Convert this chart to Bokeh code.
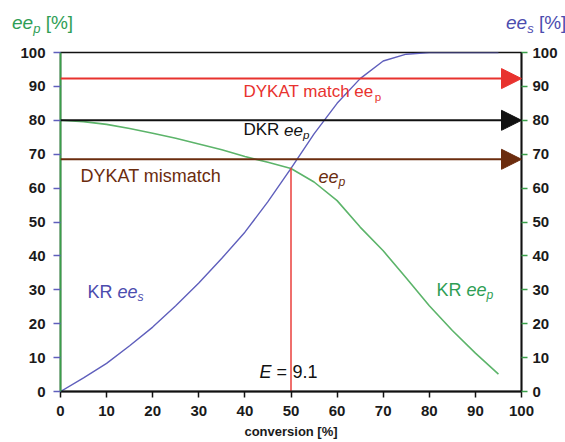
from bokeh.plotting import figure
from bokeh.layouts import column
from bokeh.models import (Range1d, LinearAxis, FixedTicker, Label, Arrow, NormalHead, Div)
from bokeh.embed import file_html
from bokeh.resources import INLINE

# ---------------- data ----------------
conversion_ees = [0, 5, 10, 15, 20, 25, 30, 35, 40, 45, 50, 55, 60, 65, 70, 75, 80, 95]
kr_ee_s = [0, 4, 8.3, 13.5, 19, 25.3, 32, 39.3, 47, 56, 65.8, 76, 85, 92.3, 97.5, 99.5, 100, 100]

conversion_eep = [0, 5, 10, 15, 20, 25, 30, 35, 40, 45, 50, 55, 60, 65, 70, 75, 80, 85, 90, 95]
kr_ee_p = [80, 79.6, 78.8, 77.6, 76.2, 74.7, 73, 71.3, 69.3, 67.6, 65.8, 61.8, 56.3, 48.5,
           41.5, 33.5, 25.3, 18, 11.3, 5.1]

dykat_match_eep = 92.3
dkr_eep = 80.0
dykat_mismatch_eep = 68.5
e_conversion = 50.0
e_ee = 66.0

ticks = [0, 10, 20, 30, 40, 50, 60, 70, 80, 90, 100]

# ---------------- styles ----------------
RED = "#e8322e"
BLACK = "#111111"
BROWN = "#6b2c0e"
GREEN_LINE = "#5cb46a"
GREEN_AXIS = "#3a9e4a"
GREEN_TEXT = "#2f9e55"
BLUE_LINE = "#5f5fbc"
BLUE_TEXT = "#4c4cae"
FONT = "Liberation Sans"

W = {'e': .556, 'p': .556, 's': .5, ' ': .278, '[': .278, '%': .889, ']': .278,
     'K': .667, 'R': .722, 'D': .722, 'Y': .667, 'A': .667, 'T': .611, 'm': .833,
     'a': .556, 't': .278, 'c': .5, 'h': .556, 'i': .222, 'E': .667, '9': .556,
     '.': .278, '1': .556, '=': .584}


def width(txt, size):
    return sum(W.get(ch, .556) for ch in txt) * size


def rich(fig, x, y, parts, color, size, dx=0, dy=6):
    """parts: list of (text, italic, subscript); spaces only advance the cursor."""
    cur = dx
    for txt, ital, sub in parts:
        s = size * 0.68 if sub else size
        lead = len(txt) - len(txt.lstrip(" "))
        cur += width(" " * lead, s)
        core = txt.strip(" ")
        if core:
            fig.add_layout(Label(x=x, y=y, x_offset=cur,
                                 y_offset=dy - (size * 0.28 if sub else 0),
                                 text=core, text_color=color, text_font=FONT,
                                 text_font_size=f"{s:.1f}px",
                                 text_font_style="italic" if ital else "normal",
                                 text_align="left", text_baseline="alphabetic"))
        cur += width(txt.lstrip(" "), s)


# ---------------- header (axis titles) ----------------
HEAD_H = 40
span_css = "position:absolute;top:13px;font-family:'Liberation Sans';font-size:19px;line-height:19px;white-space:nowrap;"
sub_css = "font-size:13px;vertical-align:-4px;line-height:0;"
head_html = (
    f"<div style='position:relative;width:565px;height:{HEAD_H}px;'>"
    f"<span style=\"{span_css}left:12px;color:{GREEN_TEXT};\"><i>ee</i><i style='{sub_css}'>p</i> [%]</span>"
    f"<span style=\"{span_css}left:506px;color:{BLUE_TEXT};\"><i>ee</i><i style='{sub_css}'>s</i> [%]</span>"
    "</div>"
)
head = Div(text=head_html, width=565, height=HEAD_H, margin=0)

# ---------------- main plot ----------------
p = figure(width=565, height=442 - HEAD_H, output_backend="svg", toolbar_location=None,
           x_range=Range1d(0, 100), y_range=Range1d(0, 100),
           min_border_left=60, min_border_right=44, min_border_top=52 - HEAD_H,
           min_border_bottom=51, x_axis_location=None, y_axis_location=None)
p.grid.visible = False
p.outline_line_color = BLACK
p.outline_line_width = 1.5


def style_axis(ax, line_color, tick_color, tick_out, standoff):
    ax.ticker = FixedTicker(ticks=ticks)
    ax.axis_line_color = line_color
    ax.axis_line_width = 1.8
    ax.major_tick_line_color = tick_color
    ax.major_tick_line_width = 1.5
    ax.major_tick_out = tick_out
    ax.major_tick_in = 0
    ax.minor_tick_line_color = None
    ax.major_label_text_font = FONT
    ax.major_label_text_font_style = "bold"
    ax.major_label_text_font_size = "15px"
    ax.major_label_text_color = "#1a1a1a"
    ax.major_label_standoff = standoff


left = LinearAxis()
style_axis(left, GREEN_AXIS, BLUE_LINE, 7, 8)
p.add_layout(left, "left")

right = LinearAxis()
style_axis(right, BLACK, GREEN_AXIS, 6, 5)
p.add_layout(right, "right")

bottom = LinearAxis(axis_label="conversion [%]")
style_axis(bottom, BLACK, BLACK, 6, 8)
bottom.axis_line_width = 2.2
bottom.axis_label_text_font = FONT
bottom.axis_label_text_font_style = "bold"
bottom.axis_label_text_font_size = "13px"
bottom.axis_label_text_color = "#1a1a1a"
bottom.axis_label_standoff = 5
p.add_layout(bottom, "below")

# curves
p.line(conversion_ees, kr_ee_s, line_color=BLUE_LINE, line_width=1.4)
p.line(conversion_eep, kr_ee_p, line_color=GREEN_LINE, line_width=1.6)

# E marker vertical line
p.segment(x0=[e_conversion], y0=[0], x1=[e_conversion], y1=[e_ee],
          line_color=RED, line_width=1.4)

# horizontal arrows
for level, col in [(dykat_match_eep, RED), (dkr_eep, BLACK), (dykat_mismatch_eep, BROWN)]:
    p.add_layout(Arrow(x_start=0, y_start=level, x_end=100, y_end=level,
                       line_color=col, line_width=2,
                       end=NormalHead(size=20, fill_color=col, line_color=col, line_width=1)))

# in-plot texts
rich(p, 0, 86.6, [("DYKAT match ee", False, False), ("p", False, True)], RED, 17, dx=183)
rich(p, 0, 75.4, [("DKR ", False, False), ("ee", True, False), ("p", True, True)], BLACK, 17, dx=183)
rich(p, 0, 61.7, [("DYKAT mismatch", False, False)], BROWN, 18, dx=20)
rich(p, 0, 61.6, [("ee", True, False), ("p", True, True)], BROWN, 18, dx=258)
rich(p, 0, 27.7, [("KR ", False, False), ("ee", True, False), ("s", True, True)], BLUE_TEXT, 18, dx=27)
rich(p, 0, 28.2, [("KR ", False, False), ("ee", True, False), ("p", True, True)], GREEN_TEXT, 18, dx=376)
rich(p, 0, 4.1, [("E", True, False), (" =", False, False)], BLACK, 18, dx=199)
rich(p, 0, 4.1, [("9.1", False, False)], BLACK, 18, dx=232)

layout = column(head, p, spacing=0)
open("out.html", "w").write(file_html(layout, INLINE))
